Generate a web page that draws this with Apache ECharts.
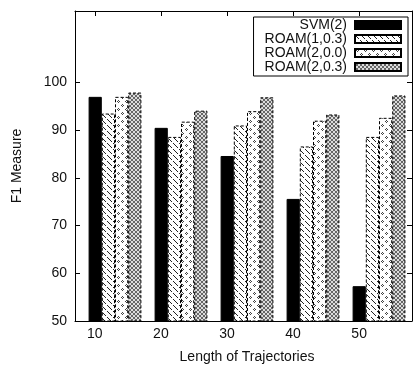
<!DOCTYPE html>
<html>
<head>
<meta charset="utf-8">
<script src="https://cdn.jsdelivr.net/npm/echarts@6/dist/echarts.min.js"></script>
<style>
  html, body { margin: 0; padding: 0; background: #fff; }
  #chart { width: 417px; height: 365px; }
</style>
</head>
<body>
<div id="chart"></div>
<script>
// Trajectory lengths (categories) and F1 scores per method
const lengths = ['10', '20', '30', '40', '50'];
const seriesNames = ['SVM(2)', 'ROAM(1,0.3)', 'ROAM(2,0.0)', 'ROAM(2,0.3)'];
const svm2     = [97.0, 90.5, 84.6, 75.6, 57.3];
const roam1_03 = [93.5, 88.6, 91.0, 86.6, 88.6];
const roam2_00 = [97.0, 91.8, 94.0, 92.0, 92.6];
const roam2_03 = [97.9, 94.1, 96.9, 93.3, 97.3];
const xTickValues = lengths.map(Number);
const yTickValues = [50, 60, 70, 80, 90, 100];

const FONT = '"Liberation Sans", Arial, Helvetica, sans-serif';
const TEXT = '#111';

// Small repeating fill tiles in the style of gnuplot's pattern fills
function tile(w, h, draw) {
  const c = document.createElement('canvas');
  c.width = w; c.height = h;
  const g = c.getContext('2d');
  draw(g);
  return { image: c, repeat: 'repeat' };
}
const dot = (g, x, y, col) => { g.fillStyle = col; g.fillRect(x, y, 1, 1); };

const hatchBack = tile(6, 6, g => {
  g.fillStyle = '#fff'; g.fillRect(0, 0, 6, 6);
  for (let i = 0; i < 6; i++) if (i !== 4) dot(g, i, i, '#222');
});
const sparseDots = tile(8, 8, g => {
  g.fillStyle = '#fff'; g.fillRect(0, 0, 8, 8);
  [[2, 0], [1, 1], [3, 1], [2, 2], [6, 4], [5, 5], [7, 5], [6, 6]].forEach(p => dot(g, p[0], p[1], '#444'));
});
const crossHatch = tile(4, 4, g => {
  g.fillStyle = '#dcdcdc'; g.fillRect(0, 0, 4, 4);
  for (let i = 0; i < 4; i++) { dot(g, i, i, '#666'); dot(g, 3 - i, i, '#666'); }
});

const values = [svm2, roam1_03, roam2_00, roam2_03];
const fills = [
  { color: '#000', borderColor: '#000', borderWidth: 1, borderType: 'solid' },
  { color: hatchBack, borderColor: '#000', borderWidth: 1, borderType: [3, 2] },
  { color: sparseDots, borderColor: '#000', borderWidth: 1, borderType: [3, 2] },
  { color: crossHatch, borderColor: '#000', borderWidth: 1, borderType: [3, 2] }
];

const frameLine = { show: true, lineStyle: { color: '#000', width: 1 } };
const tickIn = vals => ({ show: true, inside: true, length: 5, customValues: vals, lineStyle: { color: '#000', width: 1 } });
const labelStyle = { fontFamily: FONT, fontSize: 14, color: TEXT };

const chart = echarts.init(document.getElementById('chart'), null, { renderer: 'canvas' });
chart.setOption({
  animation: false,
  backgroundColor: '#fff',
  grid: [
    { left: 75, right: 5, top: 11, bottom: 44, containLabel: false, outerBoundsMode: 'none' },
    { left: 82, right: 5, top: 11, bottom: 44, containLabel: false, outerBoundsMode: 'none' }
  ],
  legend: {
    data: seriesNames,
    orient: 'vertical',
    right: 9,
    top: 17,
    align: 'right',
    icon: 'rect',
    itemWidth: 46,
    itemHeight: 8,
    itemGap: 0,
    padding: [1, 6, 2, 11],
    borderColor: '#000',
    borderWidth: 1,
    borderRadius: 0,
    backgroundColor: '#fff',
    selectedMode: false,
    textStyle: { fontFamily: FONT, fontSize: 14, color: TEXT, lineHeight: 14, padding: [0, 3, 0, 0] }
  },
  xAxis: [
    {
      gridIndex: 0, type: 'value', min: 7, max: 58, position: 'bottom',
      axisLine: frameLine, axisTick: tickIn(xTickValues), splitLine: { show: false },
      axisLabel: Object.assign({ customValues: xTickValues, margin: 6,
        formatter: v => (v % 10 === 0 ? String(v) : '') }, labelStyle),
      name: 'Length of Trajectories', nameLocation: 'middle', nameGap: 29,
      nameTextStyle: { fontFamily: FONT, fontSize: 14, color: TEXT, padding: [0, 0, 0, 7] }
    },
    {
      gridIndex: 0, type: 'value', min: 7, max: 58, position: 'top',
      axisLine: frameLine, axisTick: tickIn(xTickValues), axisLabel: { show: false }, splitLine: { show: false }
    },
    { gridIndex: 1, type: 'category', data: lengths, show: false }
  ],
  yAxis: [
    {
      gridIndex: 0, type: 'value', min: 50, max: 115, interval: 10, position: 'left',
      axisLine: frameLine, axisTick: tickIn(yTickValues), splitLine: { show: false },
      axisLabel: Object.assign({ customValues: yTickValues, margin: 8,
        formatter: v => (v <= 100 ? String(v) : '') }, labelStyle),
      name: 'F1 Measure', nameLocation: 'middle', nameGap: 51,
      nameTextStyle: { fontFamily: FONT, fontSize: 14, color: TEXT }
    },
    {
      gridIndex: 0, type: 'value', min: 50, max: 115, interval: 10, position: 'right',
      axisLine: frameLine, axisTick: tickIn(yTickValues), axisLabel: { show: false }, splitLine: { show: false }
    },
    { gridIndex: 1, type: 'value', min: 50, max: 115, show: false }
  ],
  series: seriesNames.map((name, i) => ({
    name,
    type: 'bar',
    xAxisIndex: 2,
    yAxisIndex: 2,
    data: values[i],
    barWidth: '20%',
    barGap: '0%',
    itemStyle: fills[i],
    emphasis: { disabled: true }
  }))
});
</script>
</body>
</html>
